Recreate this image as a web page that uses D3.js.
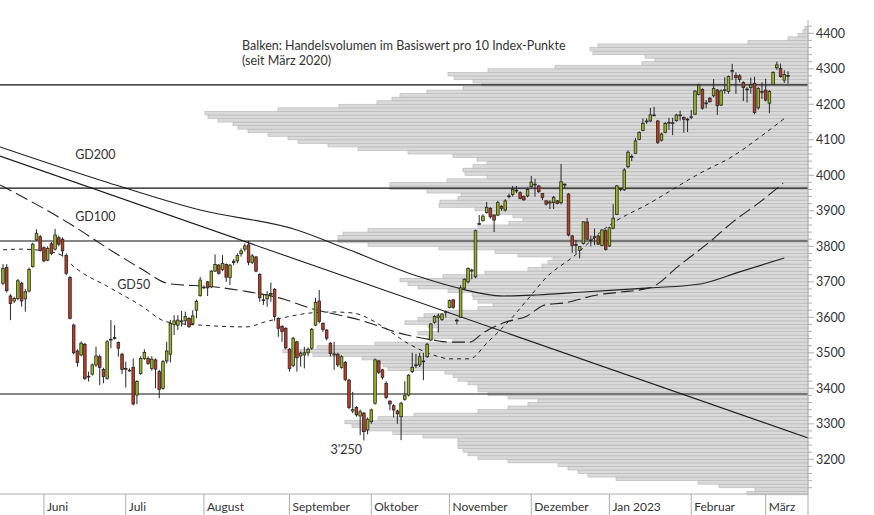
<!DOCTYPE html>
<html><head><meta charset="utf-8">
<script src="https://cdn.jsdelivr.net/npm/d3@7/dist/d3.min.js"></script>
<style>body{margin:0;background:#fff}svg{display:block}text{font-family:Lato,"Noto Sans",sans-serif;fill:#333}</style>
</head><body><svg id="c" width="874" height="515"></svg>
<script>
// ---------- DATA ----------
// daily candles [open, high, low, close], trading days mid-May 2022 .. early March 2023
const candles = [
[3696,3750,3690,3738],[3740,3750,3670,3675],[3660,3665,3592,3639],[3646,3658,3640,3653],[3653,3708,3648,3703],
[3696,3700,3630,3646],[3652,3680,3616,3672],[3674,3740,3670,3735],[3743,3810,3740,3806],[3818,3848,3815,3837],
[3827,3832,3785,3788],[3796,3800,3755,3759],[3761,3800,3758,3794],[3807,3812,3775,3780],[3792,3849,3788,3832],
[3824,3830,3800,3806],[3820,3825,3771,3787],[3774,3780,3719,3724],[3712,3716,3594,3597],[3578,3582,3496,3500],
[3505,3510,3461,3473],[3494,3532,3490,3527],[3524,3528,3423,3428],[3432,3447,3419,3434],[3440,3470,3436,3466],
[3466,3517,3460,3491],[3489,3495,3409,3459],[3453,3458,3414,3433],[3428,3536,3424,3531],[3536,3592,3513,3538],
[3543,3578,3537,3541],[3529,3532,3489,3513],[3496,3500,3440,3453],[3454,3475,3402,3456],[3451,3456,3447,3450],
[3459,3484,3352,3356],[3381,3423,3355,3419],[3442,3490,3438,3484],[3484,3510,3480,3501],[3484,3490,3466,3470],
[3456,3490,3450,3482],[3480,3484,3400,3454],[3447,3452,3372,3397],[3400,3480,3396,3475],[3477,3531,3470,3505],
[3496,3592,3473,3583],[3580,3606,3550,3590],[3578,3606,3564,3592],[3590,3618,3574,3587],[3590,3616,3578,3602],
[3597,3600,3570,3574],[3583,3620,3578,3604],[3620,3650,3597,3645],[3661,3714,3658,3705],[3684,3690,3680,3685],
[3700,3702,3660,3683],[3686,3733,3682,3730],[3730,3777,3728,3749],[3747,3750,3720,3724],[3735,3775,3730,3752],
[3749,3752,3700,3713],[3712,3750,3691,3747],[3758,3764,3747,3754],[3759,3780,3752,3774],[3779,3794,3771,3787],
[3792,3808,3785,3801],[3804,3815,3747,3755],[3755,3778,3750,3773],[3770,3773,3727,3730],[3721,3724,3644,3655],
[3649,3663,3635,3648],[3652,3674,3630,3663],[3665,3698,3644,3667],[3679,3682,3590,3602],[3597,3600,3545,3569],
[3574,3578,3531,3560],[3569,3572,3510,3514],[3510,3513,3447,3456],[3464,3545,3460,3541],[3531,3534,3447,3486],
[3491,3504,3461,3499],[3494,3517,3456,3500],[3500,3515,3490,3510],[3513,3570,3508,3566],[3578,3655,3575,3642],
[3646,3677,3583,3588],[3583,3586,3559,3566],[3564,3567,3535,3541],[3527,3530,3490,3498],[3494,3531,3452,3497],
[3496,3500,3460,3466],[3459,3493,3455,3489],[3473,3477,3420,3425],[3423,3427,3341,3346],[3336,3390,3330,3340],
[3346,3350,3320,3325],[3322,3340,3268,3334],[3330,3333,3253,3278],[3283,3318,3270,3313],[3306,3343,3300,3339],
[3358,3484,3354,3480],[3477,3480,3440,3445],[3452,3455,3425,3431],[3414,3420,3370,3374],[3364,3366,3338,3356],
[3351,3355,3318,3339],[3336,3340,3300,3328],[3320,3362,3254,3358],[3369,3420,3365,3379],[3381,3440,3377,3437],
[3447,3500,3443,3459],[3465,3497,3457,3466],[3466,3500,3460,3489],[3475,3500,3423,3477],[3489,3528,3485,3524],
[3536,3584,3533,3581],[3586,3606,3582,3602],[3600,3611,3557,3604],[3594,3612,3590,3609],[3614,3620,3600,3616],
[3628,3650,3625,3647],[3649,3652,3624,3628],[3592,3596,3580,3590],[3600,3690,3598,3683],[3682,3710,3678,3707],
[3700,3740,3695,3738],[3730,3737,3707,3733],[3714,3847,3710,3844],[3862,3888,3860,3864],[3872,3890,3870,3885],
[3895,3925,3892,3910],[3907,3910,3878,3883],[3888,3890,3840,3874],[3888,3928,3885,3923],[3913,3915,3900,3907],
[3902,3933,3898,3928],[3940,3948,3935,3942],[3946,3970,3940,3960],[3958,3970,3950,3957],[3951,3955,3932,3935],
[3940,3943,3928,3931],[3942,3965,3938,3960],[3968,3998,3965,3981],[3975,3990,3940,3974],[3970,3973,3950,3954],
[3949,3950,3930,3938],[3928,3930,3915,3919],[3922,3930,3905,3925],[3923,3942,3905,3938],[3928,3930,3918,3921],
[3923,4032,3918,3982],[3975,3977,3963,3973],[3947,3950,3828,3832],[3829,3832,3782,3802],[3805,3818,3780,3804],
[3788,3800,3766,3799],[3808,3870,3805,3869],[3868,3880,3818,3820],[3818,3830,3800,3816],[3827,3850,3803,3825],
[3829,3832,3804,3806],[3802,3848,3800,3846],[3844,3848,3788,3791],[3801,3855,3798,3852],[3851,3919,3848,3879],
[3890,3973,3888,3970],[3962,3965,3955,3960],[3959,4020,3956,4015],[4024,4070,4020,4065],[4053,4059,4040,4051],
[4062,4105,4060,4097],[4101,4124,4099,4121],[4126,4160,4124,4146],[4152,4160,4145,4153],[4153,4190,4150,4170],
[4170,4193,4166,4169],[4153,4156,4088,4093],[4099,4120,4095,4116],[4121,4150,4118,4146],[4148,4162,4128,4149],
[4147,4162,4113,4148],[4154,4173,4151,4170],[4169,4182,4154,4170],[4163,4166,4120,4158],[4158,4162,4122,4157],
[4163,4184,4158,4165],[4172,4240,4170,4237],[4228,4258,4225,4254],[4242,4245,4185,4189],[4203,4212,4189,4204],
[4217,4220,4205,4207],[4224,4271,4220,4245],[4240,4243,4170,4196],[4198,4242,4195,4238],[4240,4276,4230,4241],
[4236,4281,4230,4278],[4294,4314,4268,4295],[4281,4290,4230,4275],[4280,4285,4262,4270],[4261,4265,4209,4247],
[4243,4248,4205,4242],[4247,4275,4230,4254],[4259,4278,4172,4177],[4190,4248,4185,4245],[4236,4262,4215,4235],
[4240,4272,4208,4212],[4203,4240,4175,4236],[4256,4293,4255,4290],[4303,4320,4297,4311],[4301,4315,4275,4278],
[4268,4296,4260,4284],[4281,4293,4258,4280]
];
// moving averages: [day index, value]
const gd50 = [[0,3790],[4.6,3792],[11.3,3787],[16.1,3773],[18.5,3748],[28.8,3683],[36.8,3635],[44.1,3587],[53,3578],
[65.6,3573],[70.4,3587],[76.3,3601],[82.5,3612],[88.7,3615],[94.1,3612],[102.2,3573],[108.6,3528],[115.6,3494],
[120.2,3483],[125.5,3483],[130.1,3528],[136.3,3593],[140.9,3649],[146.2,3714],[153.2,3770],[162.4,3855],
[173.9,3922],[187.4,4006],[196.2,4054],[203.5,4108],[210.5,4164]];
const gd100 = [[-0.8,3973],[18.5,3860],[28.8,3790],[36.8,3739],[44.9,3694],[56.5,3686],[66.4,3671],[74.5,3654],
[82.5,3626],[96,3592],[108.6,3550],[115.6,3536],[120.2,3530],[125.5,3530],[129,3556],[134.4,3584],[140.9,3604],
[145.7,3635],[150.5,3640],[159.7,3663],[165.9,3671],[173.9,3683],[182,3748],[190,3813],[196.2,3869],[203.5,3925],
[209.7,3978]];
const gd200 = [[-0.8,4080],[26,3987],[53,3902],[79,3846],[93,3790],[112,3714],[121,3686],[134.4,3660],[143.5,3663],
[157,3672],[173.9,3683],[187.4,3694],[198,3728],[210,3767]];
const trendLine = [[-0.8,4054],[216.4,3260]];
const levels = [4255, 3964, 3815, 3384];
// volume profile: traded volume per 10 index points, bins from 3100 upward
const volStart = 3100, volStep = 10;
const volumes = [
 61, 53, 89,110,192,220,230,240,250,300,   // 3100-3190
330,340,345,350,350,350,385,415,447,456,   // 3200-3290
463,430,394,330,300,280,270,300,320,330,   // 3300-3390
330,340,350,355,363,420,425,431,446,495,   // 3400-3490
525,491,433,355,380,390,370,380,403,390,   // 3500-3590
384,360,330,315,330,335,336,360,390,400,   // 3600-3690
408,365,323,280,266,260,255,290,313,369,   // 3700-3790
440,470,470,465,440,330,299,285,295,320,   // 3800-3890
333,369,368,350,347,381,418,418,361,321,   // 3900-3990
343,345,335,321,331,355,400,450,480,510,   // 4000-4090
520,540,560,570,575,590,600,603,530,469,   // 4100-4190
431,416,408,381,345,326,335,354,360,320,   // 4200-4290
253,166,153,163,215,218,210, 60, 20, 10,   // 4300-4390
  5,  3];                                   // 4400-4410
const months = ["Juni","Juli","August","September","Oktober","November","Dezember","Jan 2023","Februar","März"];
const monthStart = [11,33,54,77,99,120,142,163,185,205];
const yTicks = [3200,3300,3400,3500,3600,3700,3800,3900,4000,4100,4200,4300,4400];
const notes = [{t:"GD200",i:19.4,p:4045},{t:"GD100",i:19.4,p:3870},{t:"GD50",i:30.7,p:3680},{t:"3'250",i:88,p:3215}];

// ---------- SCALES ----------
const svg = d3.select("#c");
const plotRight = 808, plotBottom = 494;
const y = d3.scaleLinear().domain([3200,4400]).range([459.3,33.3]);
const x = d3.scaleLinear().domain([0,211]).range([3,788]);
const vol = d3.scaleLinear().domain([0,800]).range([0,800]);

// volume profile bars
svg.append("g").selectAll("rect").data(volumes).join("rect")
  .attr("x",d=>plotRight-vol(d)).attr("width",d=>vol(d))
  .attr("y",(d,k)=>y(volStart+volStep*(k+1))).attr("height",(d,k)=>y(volStart+volStep*k)-y(volStart+volStep*(k+1)))
  .attr("fill","#dadada").attr("stroke","#b9b9b9").attr("stroke-width",0.7);

// moving averages
const line = d3.line().x(d=>x(d[0])).y(d=>y(d[1])).curve(d3.curveMonotoneX);
const ma = svg.append("g").attr("fill","none").attr("stroke","#222");
ma.append("path").attr("d",line(gd200)).attr("stroke-width",1.1);
ma.append("path").attr("d",line(gd100)).attr("stroke-width",1.1).attr("stroke-dasharray","13,5");
ma.append("path").attr("d",line(gd50)).attr("stroke-width",1).attr("stroke-dasharray","4,4");

// trend & horizontal levels
svg.append("path").attr("d",d3.line().x(d=>x(d[0])).y(d=>y(d[1]))(trendLine)).attr("stroke","#1a1a1a").attr("stroke-width",1.1).attr("fill","none");
svg.append("g").selectAll("line").data(levels).join("line")
  .attr("x1",0).attr("x2",plotRight).attr("y1",d=>y(d)).attr("y2",d=>y(d))
  .attr("stroke","#111").attr("stroke-width",1.2);

// candles
const cg = svg.append("g");
const bw = 2.6;
cg.selectAll("line").data(candles).join("line")
  .attr("x1",(d,i)=>x(i)).attr("x2",(d,i)=>x(i)).attr("y1",d=>y(d[1])).attr("y2",d=>y(d[2]))
  .attr("stroke","#262626").attr("stroke-width",1);
cg.selectAll("rect").data(candles).join("rect")
  .attr("x",(d,i)=>x(i)-bw/2).attr("width",bw)
  .attr("y",d=>y(Math.max(d[0],d[3]))).attr("height",d=>Math.max(0.8,Math.abs(y(d[0])-y(d[3]))))
  .attr("fill",d=>d[3]>=d[0]?"#9cb81e":"#c23a22").attr("stroke","#262626").attr("stroke-width",0.8);

// right axis
const ax = svg.append("g");
ax.append("line").attr("x1",plotRight).attr("x2",plotRight).attr("y1",20).attr("y2",515).attr("stroke","#b0b0b0");
ax.selectAll("line.mt").data(d3.range(3120,4421,20)).join("line").attr("class","mt")
  .attr("x1",plotRight).attr("x2",d=>plotRight+(d%100===0?6:4)).attr("y1",d=>y(d)).attr("y2",d=>y(d)).attr("stroke","#b0b0b0");
ax.selectAll("text").data(yTicks).join("text").attr("x",plotRight+8).attr("y",d=>y(d)+4.5)
  .attr("font-size",12.5).text(d=>d);

// bottom axis
const bx = svg.append("g");
bx.append("line").attr("x1",0).attr("x2",plotRight).attr("y1",plotBottom).attr("y2",plotBottom).attr("stroke","#b0b0b0");
bx.selectAll("line.t").data(monthStart).join("line").attr("class","t")
  .attr("x1",d=>x(d)).attr("x2",d=>x(d)).attr("y1",plotBottom).attr("y2",515).attr("stroke","#b0b0b0");
bx.selectAll("text").data(months).join("text").attr("x",(d,k)=>x(monthStart[k])+3).attr("y",511)
  .attr("font-size",12).text(d=>d);

// annotations
svg.append("g").selectAll("text").data(notes).join("text")
  .attr("x",d=>x(d.i)).attr("y",d=>y(d.p)).attr("font-size",12.5).text(d=>d.t);
const tt = svg.append("text").attr("x",242).attr("y",50).attr("font-size",12.5);
tt.append("tspan").attr("x",242).text("Balken: Handelsvolumen im Basiswert pro 10 Index-Punkte");
tt.append("tspan").attr("x",242).attr("dy",14.5).text("(seit März 2020)");
</script></body></html>
